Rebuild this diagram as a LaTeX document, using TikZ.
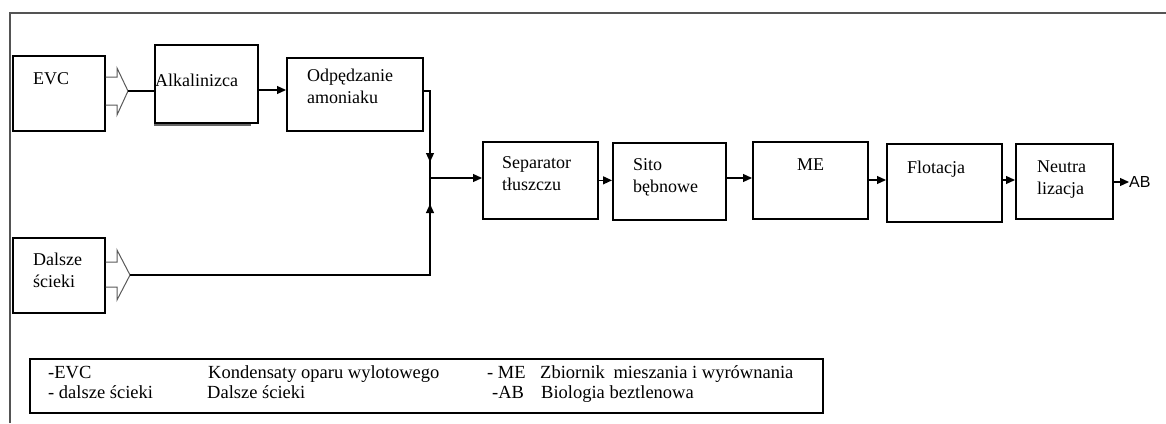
\documentclass[tikz,border=0pt]{standalone}
\usepackage{fontspec}
\setmainfont{Liberation Serif}
\newfontfamily\absans{Liberation Sans}
\usetikzlibrary{arrows.meta}

\begin{document}
\begin{tikzpicture}[x=1pt,y=-1pt,
  procbox/.style={draw=black, line width=1.7pt, fill=white, inner sep=0pt, anchor=north west},
  lbl/.style={anchor=base west, inner sep=0pt, font=\fontsize{18}{21.5}\selectfont, align=left},
  leg/.style={anchor=base west, inner sep=0pt, font=\fontsize{18.5}{20}\selectfont},
  conn/.style={draw=black, line width=1.2pt},
  arr/.style={-{Triangle[length=9pt,width=8pt]}},
  hollow/.style={draw=black!65, line width=1pt, line join=miter},
  frame/.style={draw=black!67, line width=2pt}]
\useasboundingbox (0,0) rectangle (1166,423);

% outer frame (top and left edges)
\draw[frame] (10,423) -- (10,13) -- (1166,13);

% stacked edge under the first box
\draw[black!60, line width=1.3pt] (155,119) -- (155,125) -- (250,125) -- (250,119);

% process boxes
\node[procbox, minimum width=92pt,  minimum height=75pt] (evc) at (12,55) {};
\node[procbox, minimum width=103pt, minimum height=78pt] (alk) at (154,44) {};
\node[procbox, minimum width=136pt, minimum height=73pt] (odp) at (286,57) {};
\node[procbox, minimum width=92pt,  minimum height=75pt] (dal) at (12,237) {};
\node[procbox, minimum width=115pt, minimum height=77pt] (sep) at (482,141) {};
\node[procbox, minimum width=113pt, minimum height=77pt] (sito) at (612,142) {};
\node[procbox, minimum width=115pt, minimum height=77pt] (me) at (752,141) {};
\node[procbox, minimum width=115pt, minimum height=78pt] (flot) at (886,143) {};
\node[procbox, minimum width=97pt,  minimum height=75pt] (neu) at (1015,143) {};

% box texts (multi-line labels sit on the baseline of their last line)
\node[lbl] (evc-t) at (33,84) {EVC};
\node[lbl] (alk-t) at (155,86) {Alkalinizca};
\node[lbl] (odp-t) at (307,103) {Odpędzanie\\amoniaku};
\node[lbl] (dal-t) at (33,287) {Dalsze\\ścieki};
\node[lbl] (sep-t) at (502,190) {Separator\\tłuszczu};
\node[lbl] (sito-t) at (633,192) {Sito\\bębnowe};
\node[lbl] (me-t) at (797,170) {ME};
\node[lbl] (flot-t) at (907,173) {Flotacja};
\node[lbl] (neu-t) at (1037,194) {Neutra\\lizacja};
\node[anchor=west, inner sep=0pt, font=\absans\fontsize{16}{18}\selectfont] (ab) at (1129,182) {AB};

% hollow inflow arrows
\draw[hollow] (evc.east |- 0,77) -- (117,77) -- (117,68) -- (128,91) coordinate (etip)
  -- (117,115) -- (117,105) -- (evc.east |- 0,105);
\draw[hollow] (dal.east |- 0,262) -- (117,262) -- (117,250) -- (130,275) coordinate (dtip)
  -- (117,300) -- (117,287) -- (dal.east |- 0,287);

% connectors
\draw[conn] (etip) -- (etip -| alk.west);
\draw[conn, arr] (alk.east |- 0,90) -- (odp.west |- 0,90);
\coordinate (j) at (430,178);
\draw[conn] (odp.east |- 0,91) -- (j |- 0,91) coordinate (jt) -- (j);
\draw[conn, arr] (jt) -- (j |- 0,162);
\draw[conn] (dtip) -- (j |- dtip) coordinate (jb) -- (j);
\draw[conn, arr] (jb) -- (j |- 0,204);
\draw[conn, arr] (j) -- (j -| sep.west);
\draw[conn, arr] (sep.east) -- (sep.east -| sito.west);
\draw[conn, arr] (sito.east |- 0,178) -- (me.west |- 0,178);
\draw[conn, arr] (me.east |- 0,180) -- (flot.west |- 0,180);
\draw[conn, arr] (flot.east |- 0,180) -- (neu.west |- 0,180);
\draw[conn, arr] (neu.east |- ab.west) -- (ab.west);

% legend
\node[procbox, line width=1.8pt, minimum width=793pt, minimum height=54pt] (legend) at (29,358) {};
\node[leg] (l1a) at (48,378) {-EVC};
\node[leg] (l1b) at (208,378) {Kondensaty oparu wylotowego};
\node[leg] (l1c) at (487,378) {- ME};
\node[leg] (l1d) at (540,378) {Zbiornik\hspace{4pt} mieszania i wyrównania};
\node[leg] (l2a) at (48,398) {- dalsze ścieki};
\node[leg] (l2b) at (207,398) {Dalsze ścieki};
\node[leg] (l2c) at (492,398) {-AB};
\node[leg] (l2d) at (541,398) {Biologia beztlenowa};
\end{tikzpicture}
\end{document}
